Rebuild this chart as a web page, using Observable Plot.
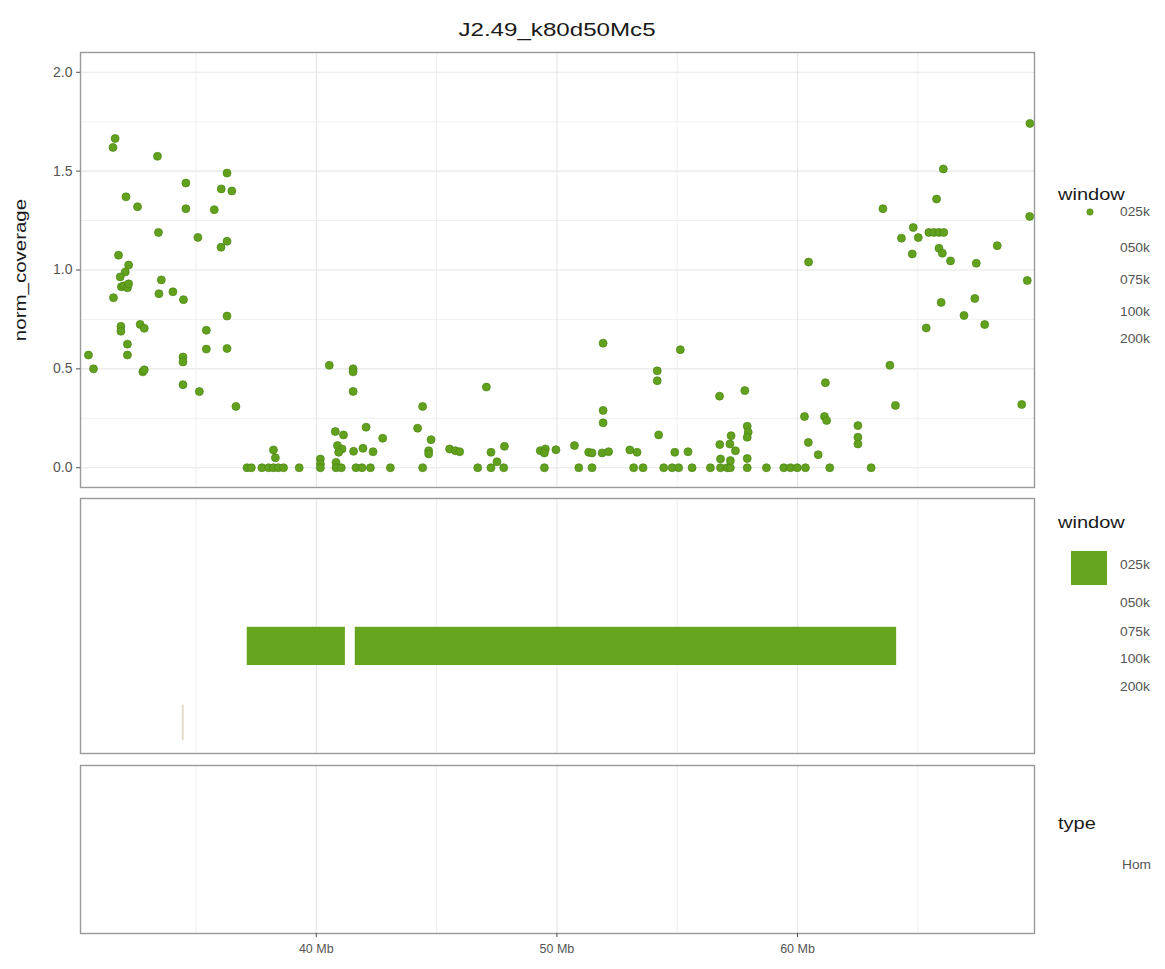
<!DOCTYPE html>
<html><head><meta charset="utf-8">
<script src="https://cdn.jsdelivr.net/npm/d3@7"></script>
<script src="https://cdn.jsdelivr.net/npm/@observablehq/plot@0.6"></script>
<style>
body{margin:0;background:#fff;font-family:"Liberation Sans",Arial,sans-serif;}
#wrap{position:relative;width:1165px;height:969px;overflow:hidden;}
.abs{position:absolute;white-space:nowrap;}
.ltitle{font-size:16px;color:#1a1a1a;transform:scaleX(1.25);transform-origin:left center;}
.llab{font-size:12.5px;color:#555555;transform:scaleX(1.1);transform-origin:left center;}
</style></head><body><div id="wrap"></div>
<script>
// ---- data ----
const title = "J2.49_k80d50Mc5";
const yLabel = "norm_coverage";
const windows = ["025k","050k","075k","100k","200k"];
const types = ["Hom"];
const xMajor = [40, 50, 60];
const xMinor = [35, 45, 55, 65];
const yMajor = [0, 0.5, 1, 1.5, 2];
const yMinor = [0.25, 0.75, 1.25, 1.75];

// position (Mb) and normalised coverage of each 25k window
const pointMb = [
 30.53,30.74,31.64,31.55,32.09,32.57,33.40,33.44,31.78,32.20,32.06,31.85,31.90,32.00,32.15,32.20,31.57,33.56,33.46,34.04,34.48,
 31.88,31.88,32.68,32.85,32.15,32.15,32.79,32.85,34.46,34.46,34.46,35.14,34.58,34.58,35.08,35.43,35.43,35.76,36.29,36.05,36.49,36.04,36.29,36.29,36.29,36.66,
 40.54,41.53,41.53,41.53,40.79,41.13,42.07,42.76,40.88,41.07,40.93,41.55,41.94,42.36,38.22,38.30,40.17,40.17,40.82,
 37.12,37.30,37.74,38.02,38.22,38.42,38.64,39.29,40.17,40.82,41.04,41.65,41.90,42.25,43.08,
 44.42,44.21,44.77,44.67,44.67,44.42,45.54,45.78,45.96,
 47.07,47.26,47.82,47.51,46.71,47.26,47.79,
 49.31,49.52,49.48,49.96,49.48,
 50.73,51.32,51.46,51.88,52.15,50.91,51.46,51.92,51.92,51.92,
 53.03,53.33,53.19,53.58,54.17,54.17,54.23,55.13,54.90,55.45,
 54.44,54.79,55.06,55.62,56.38,56.80,57.08,57.21,57.91,58.71,59.43,59.71,59.99,60.33,61.34,63.06,
 56.76,57.81,57.91,57.95,57.91,57.24,56.77,57.42,57.19,56.80,57.21,57.91,
 60.29,60.45,60.86,61.16,61.12,61.21,62.51,62.51,62.51,60.46,
 63.84,64.07,65.35,65.97,66.92,67.37,67.78,69.32,69.55,69.66,66.06,65.78,63.55,64.81,64.32,65.02,65.46,65.67,65.88,66.08,64.77,65.88,66.02,66.36,67.43,68.30,69.65
];
const pointCov = [
 0.57,0.50,1.665,1.62,1.37,1.32,1.575,1.19,1.075,1.025,0.99,0.965,0.915,0.92,0.91,0.93,0.86,0.95,0.88,0.89,0.85,
 0.715,0.69,0.725,0.705,0.625,0.57,0.485,0.495,0.56,0.535,0.42,0.385,1.44,1.31,1.165,0.695,0.60,1.305,1.49,1.41,1.40,1.115,1.145,0.767,0.603,0.31,
 0.518,0.50,0.485,0.386,0.183,0.166,0.205,0.149,0.112,0.095,0.078,0.083,0.098,0.081,0.09,0.05,0.044,0.019,0.027,
 0,0,0,0,0,0,0,0,0,0,0,0,0,0,0,
 0.31,0.20,0.142,0.086,0.07,0,0.095,0.086,0.081,
 0.408,0.078,0.108,0.03,0,0,0,
 0.086,0.095,0.075,0.091,0,
 0.112,0.078,0.075,0.075,0.081,0,0,0.63,0.29,0.227,
 0.09,0.078,0,0,0.49,0.44,0.166,0.597,0.078,0.081,
 0,0,0,0,0,0,0,0,0,0,0,0,0,0,0,0,
 0.362,0.39,0.21,0.18,0.154,0.162,0.117,0.086,0.12,0.044,0.036,0.047,
 0.259,0.128,0.066,0.43,0.259,0.239,0.213,0.154,0.12,1.04,
 0.518,0.315,0.707,0.836,0.77,0.856,0.724,0.32,0.947,1.741,1.511,1.359,1.31,1.215,1.161,1.164,1.19,1.19,1.19,1.19,1.081,1.11,1.085,1.046,1.034,1.123,1.271
];
// homozygous segments (Mb)
const segStart = [37.13, 41.62];
const segEnd   = [41.21, 64.12];
const segWindow = ["025k", "025k"];
// faint short segment
const faintStart = [34.43];
const faintEnd   = [34.51];

// ---- build ----
const points = pointMb.map((m, i) => ({pos: m, cov: pointCov[i], window: "025k"}));
const segs = segStart.map((s, i) => ({start: s, end: segEnd[i], window: segWindow[i]}));
const faint = faintStart.map((s, i) => ({start: s, end: faintEnd[i]}));

const green = "#66A61E";
const W = 1040;
const xDomain = [30.2, 69.85];
const font = '"Liberation Sans", Arial, sans-serif';
const style = {fontFamily: font, fontSize: "12px", color: "#4d4d4d", background: "transparent", overflow: "visible"};
const gridX = [
  Plot.ruleX(xMinor, {stroke: "#ebebeb", strokeWidth: 0.8}),
  Plot.ruleX(xMajor, {stroke: "#e6e6e6", strokeWidth: 1.1})
];
const frame = Plot.frame({stroke: "#999999", strokeWidth: 1.4});

const wrap = document.getElementById("wrap");
function place(el, left, top) {
  el.style.position = "absolute"; el.style.left = left + "px"; el.style.top = top + "px";
  wrap.appendChild(el);
}
function text(str, cls, left, top, extra) {
  const d = document.createElement("div");
  d.className = "abs " + cls; d.textContent = str;
  d.style.left = left + "px"; d.style.top = top + "px";
  if (extra) Object.assign(d.style, extra);
  wrap.appendChild(d); return d;
}

// Top panel
const topPlot = Plot.plot({
  width: W, height: 439, marginLeft: 80, marginRight: 6, marginTop: 2, marginBottom: 2,
  style,
  x: {domain: xDomain, axis: null},
  y: {domain: [-0.1, 2.1], axis: null},
  marks: [
    Plot.ruleY(yMinor, {stroke: "#ebebeb", strokeWidth: 0.8}),
    Plot.ruleY(yMajor, {stroke: "#e6e6e6", strokeWidth: 1.1}),
    ...gridX,
    Plot.dot(points, {x: "pos", y: "cov", r: 4, fill: "#62a11d", stroke: "#4a8516", strokeWidth: 0.7}),
    frame,
    Plot.axisY(yMajor, {tickFormat: d3.format(".1f"), tickSize: 4, tickPadding: 4, stroke: "#4d4d4d", fill: "#555555", label: null, fontSize: 14})
  ]
});
place(topPlot, 0, 50);

// Middle panel
const midPlot = Plot.plot({
  width: W, height: 259, marginLeft: 80, marginRight: 6, marginTop: 2, marginBottom: 2,
  style,
  x: {domain: xDomain, axis: null},
  y: {domain: [0, 10], axis: null},
  marks: [
    ...gridX,
    Plot.rectX(faint, {x1: "start", x2: "end", y1: 0.5, y2: 1.9, fill: "#e0dac6"}),
    Plot.rectX(segs, {x1: "start", x2: "end", y1: 3.45, y2: 4.95, fill: green}),
    frame
  ]
});
place(midPlot, 0, 496);

// Bottom panel
const botPlot = Plot.plot({
  width: W, height: 206, marginLeft: 80, marginRight: 6, marginTop: 2, marginBottom: 36,
  style,
  x: {domain: xDomain, axis: null},
  y: {domain: [0, 1], axis: null},
  marks: [
    ...gridX,
    frame,
    Plot.axisX(xMajor, {tickFormat: d => d + " Mb", tickSize: 4, tickPadding: 7, stroke: "#4d4d4d", fill: "#555555", label: null, fontSize: 12.5})
  ]
});
place(botPlot, 0, 763);

// Title and axis label
text(title, "", 557, 19, {fontSize: "19px", color: "#1a1a1a", transform: "translateX(-50%) scaleX(1.27)"});
text(yLabel, "", 21, 270, {fontSize: "16px", color: "#1a1a1a", transform: "translate(-50%,-50%) rotate(-90deg) scaleX(1.28)"});

// Legends
text("window", "ltitle", 1058, 186);
const ly1 = [213, 249, 281, 313, 340];
windows.forEach((w, i) => text(w, "llab", 1120, ly1[i] - 8));
const dotSvg = document.createElementNS("http://www.w3.org/2000/svg", "svg");
dotSvg.setAttribute("width", 20); dotSvg.setAttribute("height", 20);
dotSvg.innerHTML = `<circle cx="10" cy="10" r="3.2" fill="${green}" stroke="#4a8516" stroke-width="0.6"/>`;
place(dotSvg, 1080, 202);

text("window", "ltitle", 1058, 514);
const ly2 = [566, 604, 633, 660, 688];
windows.forEach((w, i) => text(w, "llab", 1120, ly2[i] - 8));
const sq = document.createElement("div");
Object.assign(sq.style, {width: "36px", height: "34px", background: green});
place(sq, 1071, 551);

text("type", "ltitle", 1058, 815);
types.forEach((t, i) => text(t, "llab", 1122, 858 + i * 30));
</script></body></html>
